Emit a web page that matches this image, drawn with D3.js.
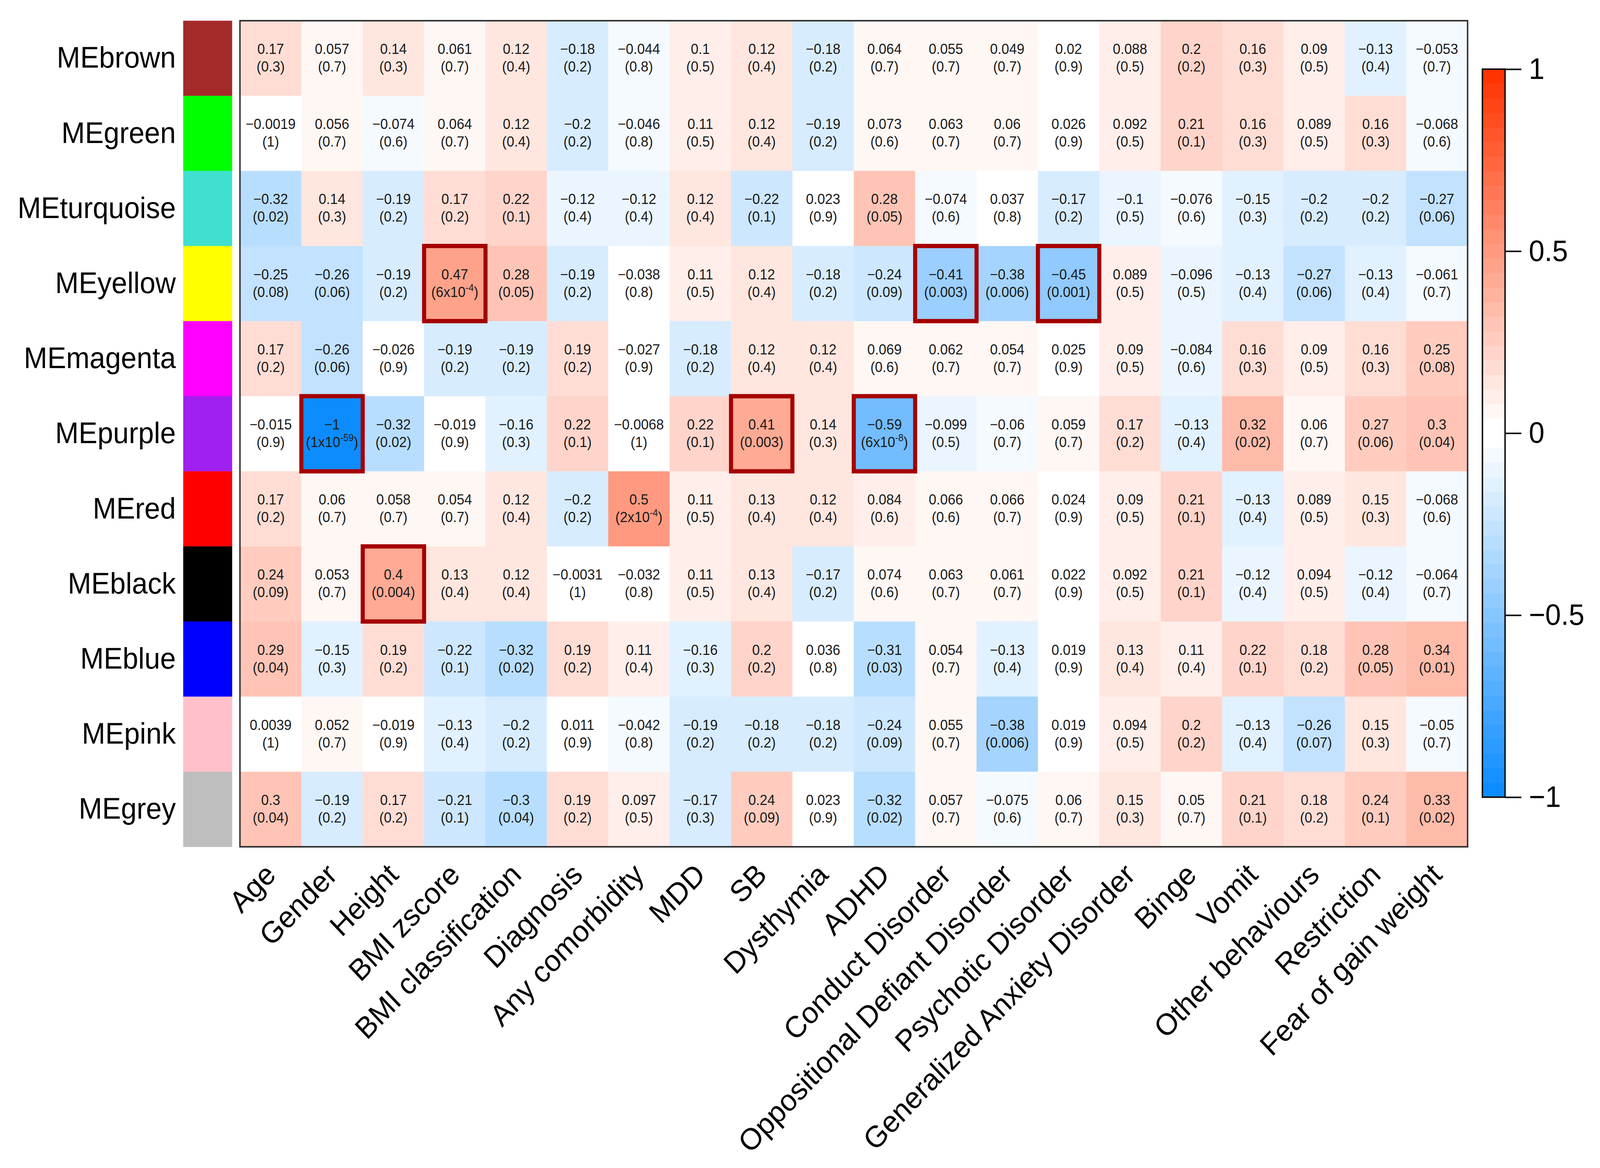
<!DOCTYPE html>
<html>
<head>
<meta charset="utf-8">
<script src="https://cdn.jsdelivr.net/npm/d3@7"></script>
<style>
  html, body { margin: 0; padding: 0; width: 100%; height: 100%; background: #fff; overflow: hidden; }
  svg { display: block; width: 100vw; height: 100vh; font-family: "Liberation Sans", Arial, sans-serif; }
</style>
</head>
<body>
<svg id="chart" viewBox="0 0 4314 2989" preserveAspectRatio="none"></svg>
<script>
// module eigengenes (rows) and their colours
var modules = ["MEbrown", "MEgreen", "MEturquoise", "MEyellow", "MEmagenta", "MEpurple",
               "MEred", "MEblack", "MEblue", "MEpink", "MEgrey"];
var moduleColors = ["#A52A2A", "#00FF00", "#40E0D0", "#FFFF00", "#FF00FF", "#A020F0",
                    "#FF0000", "#000000", "#0000FF", "#FFC0CB", "#BEBEBE"];

// clinical traits (columns)
var traits = ["Age", "Gender", "Height", "BMI zscore", "BMI classification", "Diagnosis",
              "Any comorbidity", "MDD", "SB", "Dysthymia", "ADHD", "Conduct Disorder",
              "Oppositional Defiant Disorder", "Psychotic Disorder", "Generalized Anxiety Disorder",
              "Binge", "Vomit", "Other behaviours", "Restriction", "Fear of gain weight"];

// correlations, one row per module
var corBrown     = [0.17, 0.057, 0.14, 0.061, 0.12, -0.18, -0.044, 0.1, 0.12, -0.18, 0.064, 0.055, 0.049, 0.02, 0.088, 0.2, 0.16, 0.09, -0.13, -0.053];
var corGreen     = [-0.0019, 0.056, -0.074, 0.064, 0.12, -0.2, -0.046, 0.11, 0.12, -0.19, 0.073, 0.063, 0.06, 0.026, 0.092, 0.21, 0.16, 0.089, 0.16, -0.068];
var corTurquoise = [-0.32, 0.14, -0.19, 0.17, 0.22, -0.12, -0.12, 0.12, -0.22, 0.023, 0.28, -0.074, 0.037, -0.17, -0.1, -0.076, -0.15, -0.2, -0.2, -0.27];
var corYellow    = [-0.25, -0.26, -0.19, 0.47, 0.28, -0.19, -0.038, 0.11, 0.12, -0.18, -0.24, -0.41, -0.38, -0.45, 0.089, -0.096, -0.13, -0.27, -0.13, -0.061];
var corMagenta   = [0.17, -0.26, -0.026, -0.19, -0.19, 0.19, -0.027, -0.18, 0.12, 0.12, 0.069, 0.062, 0.054, 0.025, 0.09, -0.084, 0.16, 0.09, 0.16, 0.25];
var corPurple    = [-0.015, -1, -0.32, -0.019, -0.16, 0.22, -0.0068, 0.22, 0.41, 0.14, -0.59, -0.099, -0.06, 0.059, 0.17, -0.13, 0.32, 0.06, 0.27, 0.3];
var corRed       = [0.17, 0.06, 0.058, 0.054, 0.12, -0.2, 0.5, 0.11, 0.13, 0.12, 0.084, 0.066, 0.066, 0.024, 0.09, 0.21, -0.13, 0.089, 0.15, -0.068];
var corBlack     = [0.24, 0.053, 0.4, 0.13, 0.12, -0.0031, -0.032, 0.11, 0.13, -0.17, 0.074, 0.063, 0.061, 0.022, 0.092, 0.21, -0.12, 0.094, -0.12, -0.064];
var corBlue      = [0.29, -0.15, 0.19, -0.22, -0.32, 0.19, 0.11, -0.16, 0.2, 0.036, -0.31, 0.054, -0.13, 0.019, 0.13, 0.11, 0.22, 0.18, 0.28, 0.34];
var corPink      = [0.0039, 0.052, -0.019, -0.13, -0.2, 0.011, -0.042, -0.19, -0.18, -0.18, -0.24, 0.055, -0.38, 0.019, 0.094, 0.2, -0.13, -0.26, 0.15, -0.05];
var corGrey      = [0.3, -0.19, 0.17, -0.21, -0.3, 0.19, 0.097, -0.17, 0.24, 0.023, -0.32, 0.057, -0.075, 0.06, 0.15, 0.05, 0.21, 0.18, 0.24, 0.33];

// p-values as printed
var pBrown     = ["0.3", "0.7", "0.3", "0.7", "0.4", "0.2", "0.8", "0.5", "0.4", "0.2", "0.7", "0.7", "0.7", "0.9", "0.5", "0.2", "0.3", "0.5", "0.4", "0.7"];
var pGreen     = ["1", "0.7", "0.6", "0.7", "0.4", "0.2", "0.8", "0.5", "0.4", "0.2", "0.6", "0.7", "0.7", "0.9", "0.5", "0.1", "0.3", "0.5", "0.3", "0.6"];
var pTurquoise = ["0.02", "0.3", "0.2", "0.2", "0.1", "0.4", "0.4", "0.4", "0.1", "0.9", "0.05", "0.6", "0.8", "0.2", "0.5", "0.6", "0.3", "0.2", "0.2", "0.06"];
var pYellow    = ["0.08", "0.06", "0.2", "6x10^-4", "0.05", "0.2", "0.8", "0.5", "0.4", "0.2", "0.09", "0.003", "0.006", "0.001", "0.5", "0.5", "0.4", "0.06", "0.4", "0.7"];
var pMagenta   = ["0.2", "0.06", "0.9", "0.2", "0.2", "0.2", "0.9", "0.2", "0.4", "0.4", "0.6", "0.7", "0.7", "0.9", "0.5", "0.6", "0.3", "0.5", "0.3", "0.08"];
var pPurple    = ["0.9", "1x10^-59", "0.02", "0.9", "0.3", "0.1", "1", "0.1", "0.003", "0.3", "6x10^-8", "0.5", "0.7", "0.7", "0.2", "0.4", "0.02", "0.7", "0.06", "0.04"];
var pRed       = ["0.2", "0.7", "0.7", "0.7", "0.4", "0.2", "2x10^-4", "0.5", "0.4", "0.4", "0.6", "0.6", "0.7", "0.9", "0.5", "0.1", "0.4", "0.5", "0.3", "0.6"];
var pBlack     = ["0.09", "0.7", "0.004", "0.4", "0.4", "1", "0.8", "0.5", "0.4", "0.2", "0.6", "0.7", "0.7", "0.9", "0.5", "0.1", "0.4", "0.5", "0.4", "0.7"];
var pBlue      = ["0.04", "0.3", "0.2", "0.1", "0.02", "0.2", "0.4", "0.3", "0.2", "0.8", "0.03", "0.7", "0.4", "0.9", "0.4", "0.4", "0.1", "0.2", "0.05", "0.01"];
var pPink      = ["1", "0.7", "0.9", "0.4", "0.2", "0.9", "0.8", "0.2", "0.2", "0.2", "0.09", "0.7", "0.006", "0.9", "0.5", "0.2", "0.4", "0.07", "0.3", "0.7"];
var pGrey      = ["0.04", "0.2", "0.2", "0.1", "0.04", "0.2", "0.5", "0.3", "0.09", "0.9", "0.02", "0.7", "0.6", "0.7", "0.3", "0.7", "0.1", "0.2", "0.1", "0.02"];

// boxed cells [module, trait]
var highlights = [["MEyellow", "BMI zscore"], ["MEyellow", "Conduct Disorder"], ["MEyellow", "Psychotic Disorder"],
                  ["MEpurple", "Gender"], ["MEpurple", "SB"], ["MEpurple", "ADHD"], ["MEblack", "Height"]];

var colorTicks = [1, 0.5, 0, -0.5, -1];

var corRows = [corBrown, corGreen, corTurquoise, corYellow, corMagenta, corPurple, corRed, corBlack, corBlue, corPink, corGrey];
var pRows = [pBrown, pGreen, pTurquoise, pYellow, pMagenta, pPurple, pRed, pBlack, pBlue, pPink, pGrey];

var svg = d3.select("#chart");

var matLeft = 647, matRight = 3957, matTop = 53, matBottom = 2167;

var x = d3.scaleBand().domain(traits).range([matLeft, matRight]);
var y = d3.scaleBand().domain(modules).range([matTop, matBottom]);

// blueWhiteRed(50), WGCNA style
var nCol = 50, half = nCol / 2;
var blueEnd = [0.05, 0.55, 1.0], redEnd = [1.0, 0.2, 0.0];
var palette = [];
for (var i = 0; i < half; i++) {
    var f = i / (half - 1);
    palette.push(d3.rgb(255 * (blueEnd[0] + (1 - blueEnd[0]) * f), 255 * (blueEnd[1] + (1 - blueEnd[1]) * f), 255 * (blueEnd[2] + (1 - blueEnd[2]) * f)).formatHex());
}
for (var i = 0; i < half; i++) {
    var f = (half - 1 - i) / (half - 1);
    palette.push(d3.rgb(255 * (redEnd[0] + (1 - redEnd[0]) * f), 255 * (redEnd[1] + (1 - redEnd[1]) * f), 255 * (redEnd[2] + (1 - redEnd[2]) * f)).formatHex());
}
var color = d3.scaleQuantize().domain([-1, 1]).range(palette);

var cells = [];
modules.forEach(function (m, r) {
    traits.forEach(function (t, c) {
        cells.push({ module: m, trait: t, r: corRows[r][c], p: pRows[r][c] });
    });
});

// heatmap cells
svg.append("g").selectAll("rect")
    .data(cells)
    .enter().append("rect")
    .attr("x", function (d) { return x(d.trait); })
    .attr("y", function (d) { return y(d.module); })
    .attr("width", x.bandwidth() + 0.5)
    .attr("height", y.bandwidth() + 0.5)
    .style("fill", function (d) { return color(d.r); });

// cell text
var fmt = function (v) { return String(v).replace("-", "\u2212"); };
var txt = svg.append("g").style("fill", "#1a1a1a").style("text-anchor", "middle");

cells.forEach(function (d) {
    var px = x(d.trait) + x.bandwidth() / 2,
        py = y(d.module) + y.bandwidth() / 2;
    txt.append("text")
        .attr("x", px)
        .attr("y", py - 11)
        .style("font-size", "37px")
        .text(fmt(d.r));

    var t2 = txt.append("text")
        .attr("x", px)
        .attr("y", py + 34)
        .style("font-size", "37px");
    var m = d.p.match(/^(\d+)x10\^(-?\d+)$/);
    if (m) {
        t2.append("tspan").text("(" + m[1] + "x10");
        t2.append("tspan").attr("dy", -15).style("font-size", "25px").text(m[2]);
        t2.append("tspan").attr("dy", 15).text(")");
    } else {
        t2.text("(" + d.p + ")");
    }
});

// highlight boxes
svg.append("g").selectAll("rect")
    .data(highlights)
    .enter().append("rect")
    .attr("x", function (d) { return x(d[1]); })
    .attr("y", function (d) { return y(d[0]); })
    .attr("width", x.bandwidth())
    .attr("height", y.bandwidth())
    .style("fill", "none")
    .style("stroke", "#A50000")
    .style("stroke-width", 11);

// matrix frame
svg.append("rect")
    .attr("x", matLeft).attr("y", matTop)
    .attr("width", matRight - matLeft).attr("height", matBottom - matTop)
    .style("fill", "none").style("stroke", "#333").style("stroke-width", 4);

// module colour bar
svg.append("g").selectAll("rect")
    .data(modules)
    .enter().append("rect")
    .attr("x", 494)
    .attr("y", function (d) { return y(d); })
    .attr("width", 132)
    .attr("height", y.bandwidth() + 0.5)
    .style("fill", function (d, i) { return moduleColors[i]; });

// row labels
var yAxis = svg.append("g")
    .attr("transform", "translate(474,0)")
    .call(d3.axisLeft(y).tickSize(0).tickPadding(0));
yAxis.select(".domain").remove();
yAxis.selectAll("text")
    .style("font-family", "'Liberation Sans', Arial, sans-serif")
    .style("font-size", "76px")
    .style("fill", "#000");

// column labels
var xAxis = svg.append("g")
    .attr("transform", "translate(0," + matBottom + ")")
    .call(d3.axisBottom(x).tickSize(0).tickPadding(0));
xAxis.select(".domain").remove();
xAxis.selectAll("text")
    .style("font-family", "'Liberation Sans', Arial, sans-serif")
    .style("font-size", "77px")
    .style("fill", "#000")
    .style("text-anchor", "end")
    .attr("y", 0)
    .attr("dy", 0)
    .attr("transform", "translate(18,76) rotate(-45)");

// colour legend
var barX = 3997, barW = 61, barTop = 177, barBottom = 2040;
var cScale = d3.scaleLinear().domain([-1, 1]).range([barBottom, barTop]);
var step = 2 / nCol;

svg.append("g").selectAll("rect")
    .data(palette)
    .enter().append("rect")
    .attr("x", barX)
    .attr("y", function (d, i) { return cScale(-1 + (i + 1) * step); })
    .attr("width", barW)
    .attr("height", function () { return cScale(-1) - cScale(-1 + step) + 0.5; })
    .style("fill", function (d) { return d; });

svg.append("rect")
    .attr("x", barX).attr("y", barTop)
    .attr("width", barW).attr("height", barBottom - barTop)
    .style("fill", "none").style("stroke", "#111").style("stroke-width", 4);

var cAxis = svg.append("g")
    .attr("transform", "translate(" + (barX + barW) + ",0)")
    .call(d3.axisRight(cScale).tickValues(colorTicks).tickFormat(d3.format("")).tickSize(44).tickPadding(20).tickSizeOuter(0));
cAxis.select(".domain").remove();
cAxis.selectAll("line").style("stroke", "#111").style("stroke-width", 4);
cAxis.selectAll("text")
    .style("font-family", "'Liberation Sans', Arial, sans-serif")
    .style("font-size", "76px")
    .style("fill", "#000");
</script>
</body>
</html>
